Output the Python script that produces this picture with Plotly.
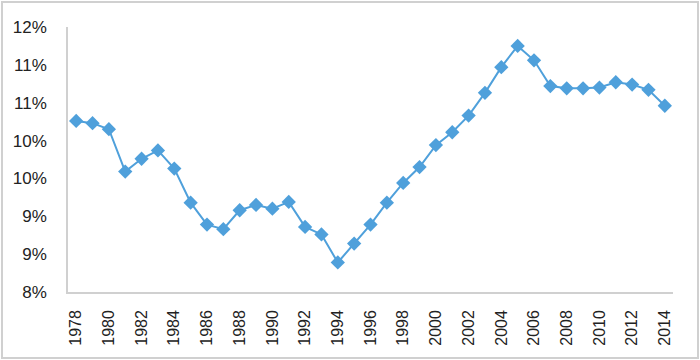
import plotly.graph_objects as go

years = list(range(1978, 2015))
values = [10.26, 10.23, 10.15, 9.59, 9.76, 9.87, 9.63, 9.18, 8.89, 8.83,
          9.08, 9.15, 9.10, 9.19, 8.86, 8.76, 8.39, 8.64, 8.89, 9.18,
          9.44, 9.65, 9.94, 10.11, 10.33, 10.63, 10.97, 11.25, 11.06, 10.72,
          10.69, 10.69, 10.70, 10.77, 10.74, 10.67, 10.46]
y_tickvals = [8.0, 8.5, 9.0, 9.5, 10.0, 10.5, 11.0, 11.5]
y_ticktext = ["8%", "9%", "9%", "10%", "10%", "11%", "11%", "12%"]
x_tickvals = list(range(1978, 2015, 2))

fig = go.Figure()
fig.add_trace(go.Scatter(
    x=years, y=values, mode="lines+markers",
    line=dict(color="#4FA0DB", width=2),
    marker=dict(symbol="diamond", size=11, color="#4FA0DB"),
    cliponaxis=False,
))

fig.update_layout(
    width=700, height=360,
    margin=dict(l=68, r=27, t=27, b=68, autoexpand=False),
    paper_bgcolor="white", plot_bgcolor="white",
    showlegend=False,
    font=dict(family="Liberation Sans", size=16, color="#222222"),
    shapes=[dict(type="rect", xref="paper", yref="paper",
                 x0=-66/605, x1=1 + 25/605, y0=-66/265, y1=1 + 25/265,
                 line=dict(color="#d0d0d0", width=2))],
)
fig.update_xaxes(
    range=[1977.5, 2014.5], tickmode="array", tickvals=x_tickvals,
    tickangle=-90, showgrid=False, zeroline=False, automargin=False,
    showline=True, linecolor="#d0d0d0", linewidth=1.5,
    ticks="", ticklabelstandoff=10, tickfont=dict(size=16),
)
fig.update_yaxes(
    range=[8.0, 11.5], tickmode="array", tickvals=y_tickvals, ticktext=y_ticktext,
    showgrid=False, zeroline=False, automargin=False,
    showline=True, linecolor="#d0d0d0", linewidth=1.5,
    ticks="", ticklabelstandoff=16, tickfont=dict(size=17),
)

fig.write_html("out.html", config={"displayModeBar": False},
               post_script="document.body.style.margin='0';document.body.style.overflow='hidden';")
